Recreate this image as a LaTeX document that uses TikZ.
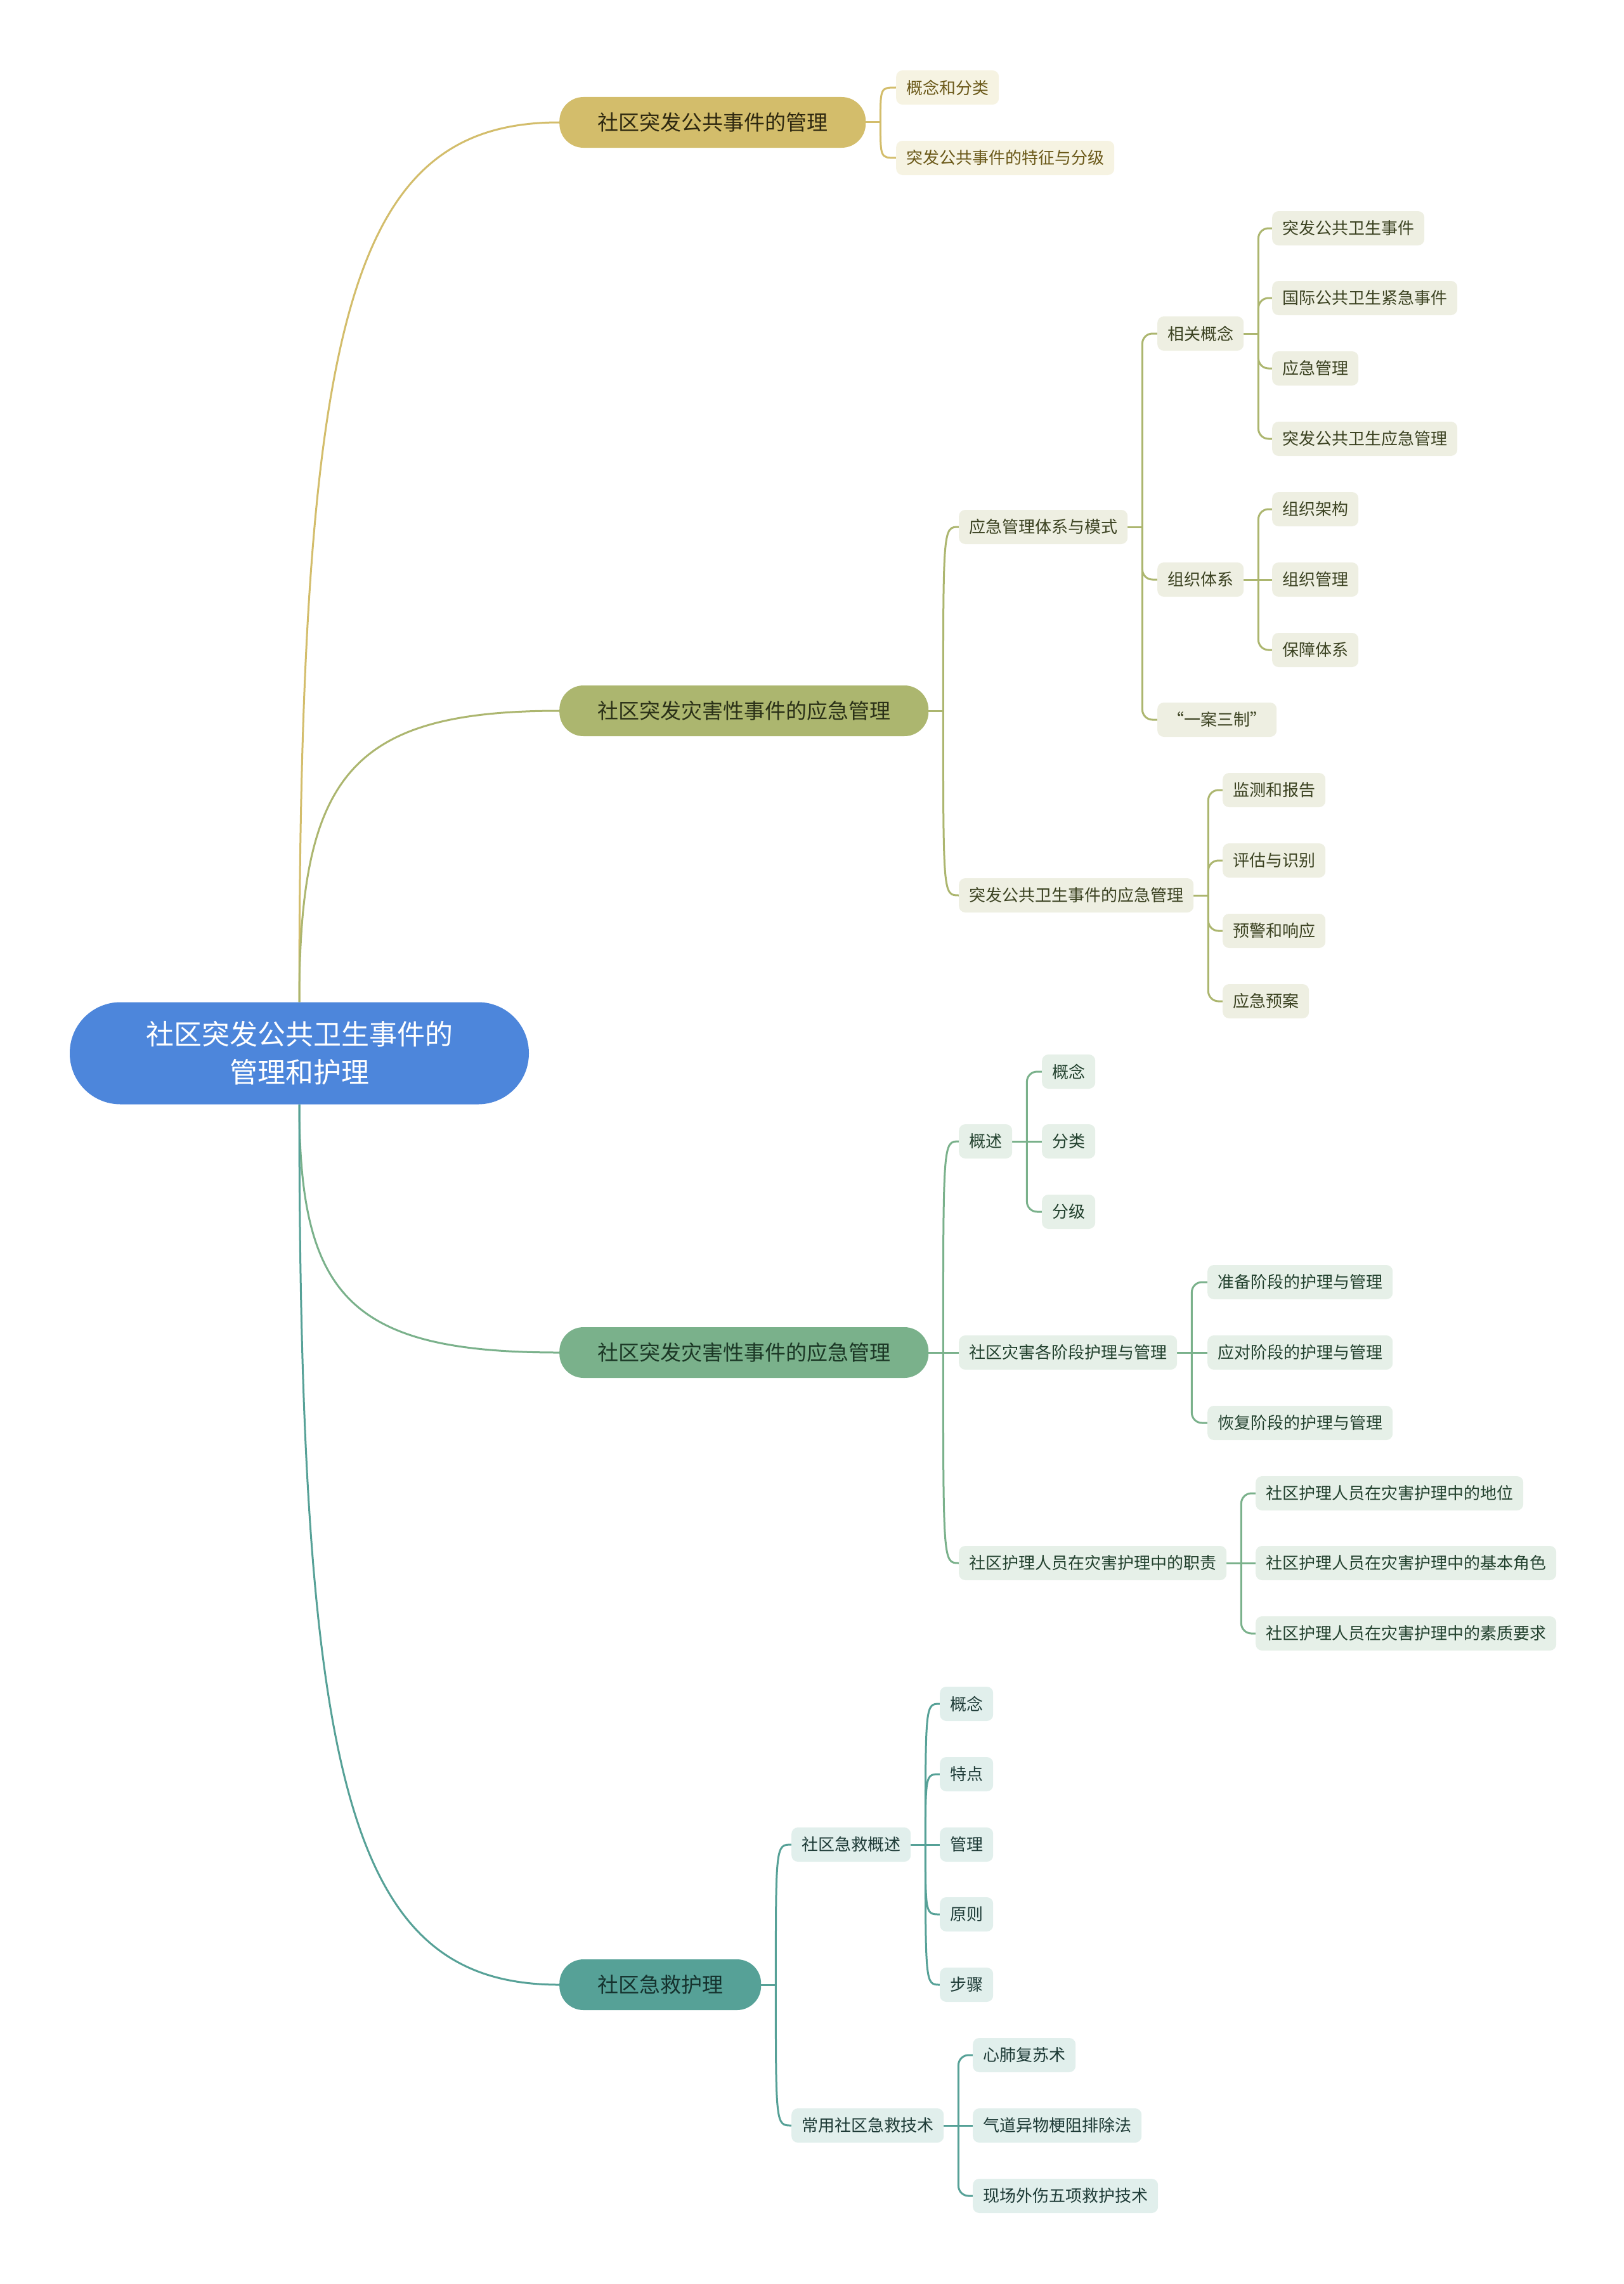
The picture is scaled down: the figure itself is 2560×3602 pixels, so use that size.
\documentclass[tikz,border=0pt]{standalone}
\usepackage{fontspec}
\setmainfont{Noto Sans CJK SC}
\usepackage{tikz}
\pgfdeclarelayer{edgelayer}
\pgfdeclarelayer{nodelayer}
\pgfsetlayers{edgelayer,nodelayer,main}
\definecolor{rootblue}{HTML}{4D86DB}
\definecolor{mgold}{HTML}{D3BD6B}
\definecolor{mgoldlight}{HTML}{F6F3E2}
\definecolor{mgoldtext}{HTML}{6A5818}
\definecolor{mgolddark}{HTML}{2E2810}
\definecolor{molive}{HTML}{ACB66F}
\definecolor{molivelight}{HTML}{EEEFE2}
\definecolor{molivetext}{HTML}{3B4221}
\definecolor{molivedark}{HTML}{2B3118}
\definecolor{msage}{HTML}{7AB18B}
\definecolor{msagelight}{HTML}{E6F0E8}
\definecolor{msagetext}{HTML}{22412E}
\definecolor{msagedark}{HTML}{1C3826}
\definecolor{mteal}{HTML}{56A197}
\definecolor{mteallight}{HTML}{E1EFEC}
\definecolor{mtealtext}{HTML}{1E3B37}
\definecolor{mtealdark}{HTML}{15322E}
\tikzstyle{root}=[rectangle, rounded corners=80pt, fill=rootblue, text=white, minimum width=724pt, minimum height=161pt, align=center, font=\fontsize{44}{60}\selectfont]
\tikzstyle{topic}=[rectangle, rounded corners=38pt, minimum height=80pt, inner xsep=60pt, anchor=west, font=\fontsize{33}{36}\selectfont]
\tikzstyle{sub}=[rectangle, rounded corners=10pt, minimum height=54pt, inner xsep=16pt, anchor=west, font=\fontsize{26}{30}\selectfont]
\tikzstyle{gold topic}=[topic, fill=mgold, text=mgolddark]
\tikzstyle{olive topic}=[topic, fill=molive, text=molivedark]
\tikzstyle{sage topic}=[topic, fill=msage, text=msagedark]
\tikzstyle{teal topic}=[topic, fill=mteal, text=mtealdark]
\tikzstyle{gold sub}=[sub, fill=mgoldlight, text=mgoldtext]
\tikzstyle{olive sub}=[sub, fill=molivelight, text=molivetext]
\tikzstyle{sage sub}=[sub, fill=msagelight, text=msagetext]
\tikzstyle{teal sub}=[sub, fill=mteallight, text=mtealtext]
\tikzstyle{gold edge}=[draw=mgold, line width=3pt]
\tikzstyle{olive edge}=[draw=molive, line width=3pt]
\tikzstyle{sage edge}=[draw=msage, line width=3pt]
\tikzstyle{teal edge}=[draw=mteal, line width=3pt]
\tikzstyle{elbow}=[rounded corners=16pt]

\begin{document}
\begin{tikzpicture}[x=1pt, y=-1pt]
				\useasboundingbox (0,0) rectangle (2560,3602);
				\begin{pgfonlayer}{nodelayer}
					\node [style=root] (0) at (472,1661) {社区突发公共卫生事件的\\管理和护理};
					\node [style=gold topic] (1) at (882,193) {社区突发公共事件的管理};
					\node [style=olive topic] (2) at (882,1121) {社区突发灾害性事件的应急管理};
					\node [style=sage topic] (3) at (882,2133) {社区突发灾害性事件的应急管理};
					\node [style=teal topic] (4) at (882,3130) {社区急救护理};
					\node [style=gold sub] (11) at (1413,138) {概念和分类};
					\node [style=gold sub] (12) at (1413,249) {突发公共事件的特征与分级};
					\node [style=olive sub] (21) at (1512,831) {应急管理体系与模式};
					\node [style=olive sub] (211) at (1825,526) {相关概念};
					\node [style=olive sub] (2111) at (2006,360) {突发公共卫生事件};
					\node [style=olive sub] (2112) at (2006,470) {国际公共卫生紧急事件};
					\node [style=olive sub] (2113) at (2006,581) {应急管理};
					\node [style=olive sub] (2114) at (2006,692) {突发公共卫生应急管理};
					\node [style=olive sub] (212) at (1825,914) {组织体系};
					\node [style=olive sub] (2121) at (2006,803) {组织架构};
					\node [style=olive sub] (2122) at (2006,914) {组织管理};
					\node [style=olive sub] (2123) at (2006,1025) {保障体系};
					\node [style=olive sub] (213) at (1825,1135) {“一案三制”};
					\node [style=olive sub] (22) at (1512,1412) {突发公共卫生事件的应急管理};
					\node [style=olive sub] (221) at (1928,1246) {监测和报告};
					\node [style=olive sub] (222) at (1928,1357) {评估与识别};
					\node [style=olive sub] (223) at (1928,1468) {预警和响应};
					\node [style=olive sub] (224) at (1928,1579) {应急预案};
					\node [style=sage sub] (31) at (1512,1800) {概述};
					\node [style=sage sub] (311) at (1643,1690) {概念};
					\node [style=sage sub] (312) at (1643,1800) {分类};
					\node [style=sage sub] (313) at (1643,1911) {分级};
					\node [style=sage sub] (32) at (1512,2133) {社区灾害各阶段护理与管理};
					\node [style=sage sub] (321) at (1904,2022) {准备阶段的护理与管理};
					\node [style=sage sub] (322) at (1904,2133) {应对阶段的护理与管理};
					\node [style=sage sub] (323) at (1904,2244) {恢复阶段的护理与管理};
					\node [style=sage sub] (33) at (1512,2465) {社区护理人员在灾害护理中的职责};
					\node [style=sage sub] (331) at (1980,2355) {社区护理人员在灾害护理中的地位};
					\node [style=sage sub] (332) at (1980,2465) {社区护理人员在灾害护理中的基本角色};
					\node [style=sage sub] (333) at (1980,2576) {社区护理人员在灾害护理中的素质要求};
					\node [style=teal sub] (41) at (1248,2909) {社区急救概述};
					\node [style=teal sub] (411) at (1482,2687) {概念};
					\node [style=teal sub] (412) at (1482,2798) {特点};
					\node [style=teal sub] (413) at (1482,2909) {管理};
					\node [style=teal sub] (414) at (1482,3019) {原则};
					\node [style=teal sub] (415) at (1482,3130) {步骤};
					\node [style=teal sub] (42) at (1248,3352) {常用社区急救技术};
					\node [style=teal sub] (421) at (1534,3241) {心肺复苏术};
					\node [style=teal sub] (422) at (1534,3352) {气道异物梗阻排除法};
					\node [style=teal sub] (423) at (1534,3463) {现场外伤五项救护技术};
				\end{pgfonlayer}
				\begin{pgfonlayer}{edgelayer}
					% trunks from the centre
					\draw [style=gold edge] (0.north) .. controls +(0,-1083) and +(-328,0) .. (1.west);
					\draw [style=olive edge] (0.north) .. controls +(0,-359) and +(-328,0) .. (2.west);
					\draw [style=sage edge] (0.south) .. controls +(0,305) and +(-328,0) .. (3.west);
					\draw [style=teal edge] (0.south) .. controls +(0,1083) and +(-328,0) .. (4.west);
					% spines
					\coordinate (1s) at ([xshift=23pt]1.east);
					\coordinate (2s) at ([xshift=23pt]2.east);
					\coordinate (21s) at ([xshift=23pt]21.east);
					\coordinate (211s) at ([xshift=23pt]211.east);
					\coordinate (212s) at ([xshift=23pt]212.east);
					\coordinate (22s) at ([xshift=23pt]22.east);
					\coordinate (3s) at ([xshift=23pt]3.east);
					\coordinate (31s) at ([xshift=23pt]31.east);
					\coordinate (32s) at ([xshift=23pt]32.east);
					\coordinate (33s) at ([xshift=23pt]33.east);
					\coordinate (4s) at ([xshift=23pt]4.east);
					\coordinate (41s) at ([xshift=23pt]41.east);
					\coordinate (42s) at ([xshift=23pt]42.east);
					\draw [style=gold edge] (1.east) -- (1s);
					\draw [style=gold edge] (1s) .. controls (1s |- 11.west) .. (11.west);
					\draw [style=gold edge] (1s) .. controls (1s |- 12.west) .. (12.west);
					\draw [style=olive edge] (2.east) -- (2s);
					\draw [style=olive edge] (2s) .. controls (2s |- 21.west) .. (21.west);
					\draw [style=olive edge] (2s) .. controls (2s |- 22.west) .. (22.west);
					\draw [style=olive edge] (21.east) -- (21s);
					\draw [style=olive edge, style=elbow] (21s) |- (211.west);
					\draw [style=olive edge, style=elbow] (21s) |- (212.west);
					\draw [style=olive edge, style=elbow] (21s) |- (213.west);
					\draw [style=olive edge] (211.east) -- (211s);
					\draw [style=olive edge, style=elbow] (211s) |- (2111.west);
					\draw [style=olive edge, style=elbow] (211s) |- (2112.west);
					\draw [style=olive edge, style=elbow] (211s) |- (2113.west);
					\draw [style=olive edge, style=elbow] (211s) |- (2114.west);
					\draw [style=olive edge] (212.east) -- (212s);
					\draw [style=olive edge, style=elbow] (212s) |- (2121.west);
					\draw [style=olive edge] (212s) -- (2122.west);
					\draw [style=olive edge, style=elbow] (212s) |- (2123.west);
					\draw [style=olive edge] (22.east) -- (22s);
					\draw [style=olive edge, style=elbow] (22s) |- (221.west);
					\draw [style=olive edge, style=elbow] (22s) |- (222.west);
					\draw [style=olive edge, style=elbow] (22s) |- (223.west);
					\draw [style=olive edge, style=elbow] (22s) |- (224.west);
					\draw [style=sage edge] (3.east) -- (3s);
					\draw [style=sage edge] (3s) .. controls (3s |- 31.west) .. (31.west);
					\draw [style=sage edge] (3s) -- (32.west);
					\draw [style=sage edge] (3s) .. controls (3s |- 33.west) .. (33.west);
					\draw [style=sage edge] (31.east) -- (31s);
					\draw [style=sage edge, style=elbow] (31s) |- (311.west);
					\draw [style=sage edge] (31s) -- (312.west);
					\draw [style=sage edge, style=elbow] (31s) |- (313.west);
					\draw [style=sage edge] (32.east) -- (32s);
					\draw [style=sage edge, style=elbow] (32s) |- (321.west);
					\draw [style=sage edge] (32s) -- (322.west);
					\draw [style=sage edge, style=elbow] (32s) |- (323.west);
					\draw [style=sage edge] (33.east) -- (33s);
					\draw [style=sage edge, style=elbow] (33s) |- (331.west);
					\draw [style=sage edge] (33s) -- (332.west);
					\draw [style=sage edge, style=elbow] (33s) |- (333.west);
					\draw [style=teal edge] (4.east) -- (4s);
					\draw [style=teal edge] (4s) .. controls (4s |- 41.west) .. (41.west);
					\draw [style=teal edge] (4s) .. controls (4s |- 42.west) .. (42.west);
					\draw [style=teal edge] (41.east) -- (41s);
					\draw [style=teal edge] (41s) .. controls (41s |- 411.west) .. (411.west);
					\draw [style=teal edge] (41s) .. controls (41s |- 412.west) .. (412.west);
					\draw [style=teal edge] (41s) -- (413.west);
					\draw [style=teal edge] (41s) .. controls (41s |- 414.west) .. (414.west);
					\draw [style=teal edge] (41s) .. controls (41s |- 415.west) .. (415.west);
					\draw [style=teal edge] (42.east) -- (42s);
					\draw [style=teal edge, style=elbow] (42s) |- (421.west);
					\draw [style=teal edge] (42s) -- (422.west);
					\draw [style=teal edge, style=elbow] (42s) |- (423.west);
				\end{pgfonlayer}
			\end{tikzpicture}
\end{document}
